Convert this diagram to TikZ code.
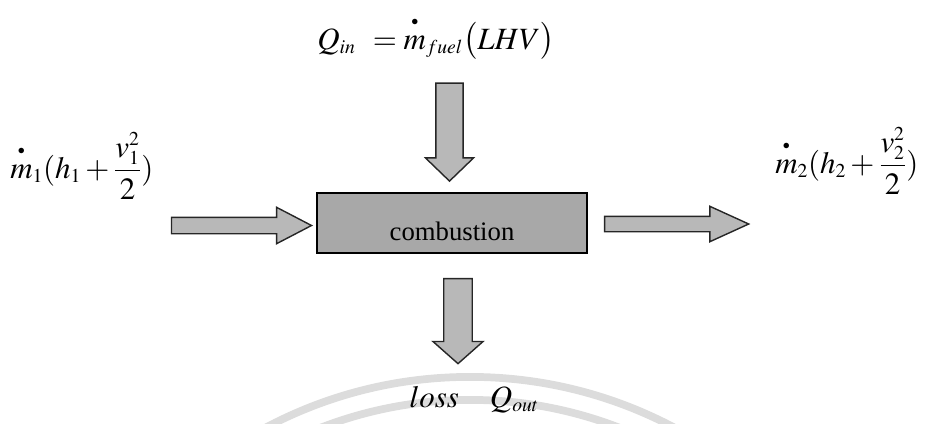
\documentclass[tikz,border=0pt]{standalone}
\usepackage{amsmath}
\usepackage{mathptmx}
\usepackage[no-math]{fontspec}
\setmainfont{Liberation Serif}
\usepackage{tikz}
\usetikzlibrary{shapes.arrows, positioning, calc}
\definecolor{arrowgray}{HTML}{B8B8B8}
\definecolor{boxgray}{HTML}{A8A8A8}
\definecolor{markgray}{HTML}{DCDCDC}
\DeclareMathSizes{22}{22}{14}{10}
\newcommand{\mflow}{\overset{\raisebox{0.12em}{$\scriptscriptstyle\bullet$}}{m}}

\begin{document}
\begin{tikzpicture}[x=0.025cm, y=-0.025cm,
    formula/.style={inner sep=0pt, font=\fontsize{22}{26}\selectfont},
    blockarrow/.style={single arrow, draw=black!85, line width=1pt,
        fill=arrowgray, inner xsep=0pt, single arrow head indent=0pt}]
    \useasboundingbox (0,0) rectangle (926,423);

    % Watermark
    \begin{scope}
        \clip (0,0) rectangle (926,423);
        \draw[markgray, line width=5.5pt] (470,813) circle (10.9cm);
        \draw[markgray, line width=5.5pt] (470,813) circle (10.325cm);
    \end{scope}

    % Chamber
    \node[draw, line width=1.3pt, fill=boxgray, inner sep=0pt,
          minimum width=6.75cm, text height=1.175cm, text depth=0.325cm,
          font=\fontsize{19}{22}\selectfont] (chamber) at (452,223) {combustion};

    % Block arrows
    \node[blockarrow, anchor=tip, inner ysep=0.1875cm, minimum height=3.5cm,
          minimum width=0.825cm, single arrow tip angle=55]
        (inflow) at ($(chamber.west)+(-3,2.5)$) {};
    \node[blockarrow, anchor=tail, inner ysep=0.175cm, minimum height=3.6cm,
          minimum width=0.8cm, single arrow tip angle=49]
        (outflow) at ($(chamber.east)+(16,1)$) {};
    \node[blockarrow, rotate=-90, anchor=tip, inner ysep=0.3125cm, minimum height=2.45cm,
          minimum width=1.2cm, single arrow tip angle=92]
        (fuelarrow) at ($(chamber.north)+(-2.5,-10)$) {};
    \node[blockarrow, rotate=-90, anchor=tail, inner ysep=0.3125cm, minimum height=2.125cm,
          minimum width=1.25cm, single arrow tip angle=97]
        (lossarrow) at ($(chamber.south)+(6,24)$) {};

    % Energy terms
    \node[formula, anchor=base west] (fuelin) at (317,49)
        {$Q_{in}\;\, = \mflow_{fuel}\bigl(LHV\bigr)$};
    \node[formula, anchor=base west] (massin) at (10,178)
        {$\mflow_1(h_1 + \dfrac{v_1^2}{2})$};
    \node[formula, anchor=base west] (massout) at (775,173)
        {$\mflow_2(h_2 + \dfrac{v_2^2}{2})$};
    \node[formula, anchor=base west] (heatloss) at (409,407)
        {$loss\quad Q_{out}$};
\end{tikzpicture}
\end{document}
